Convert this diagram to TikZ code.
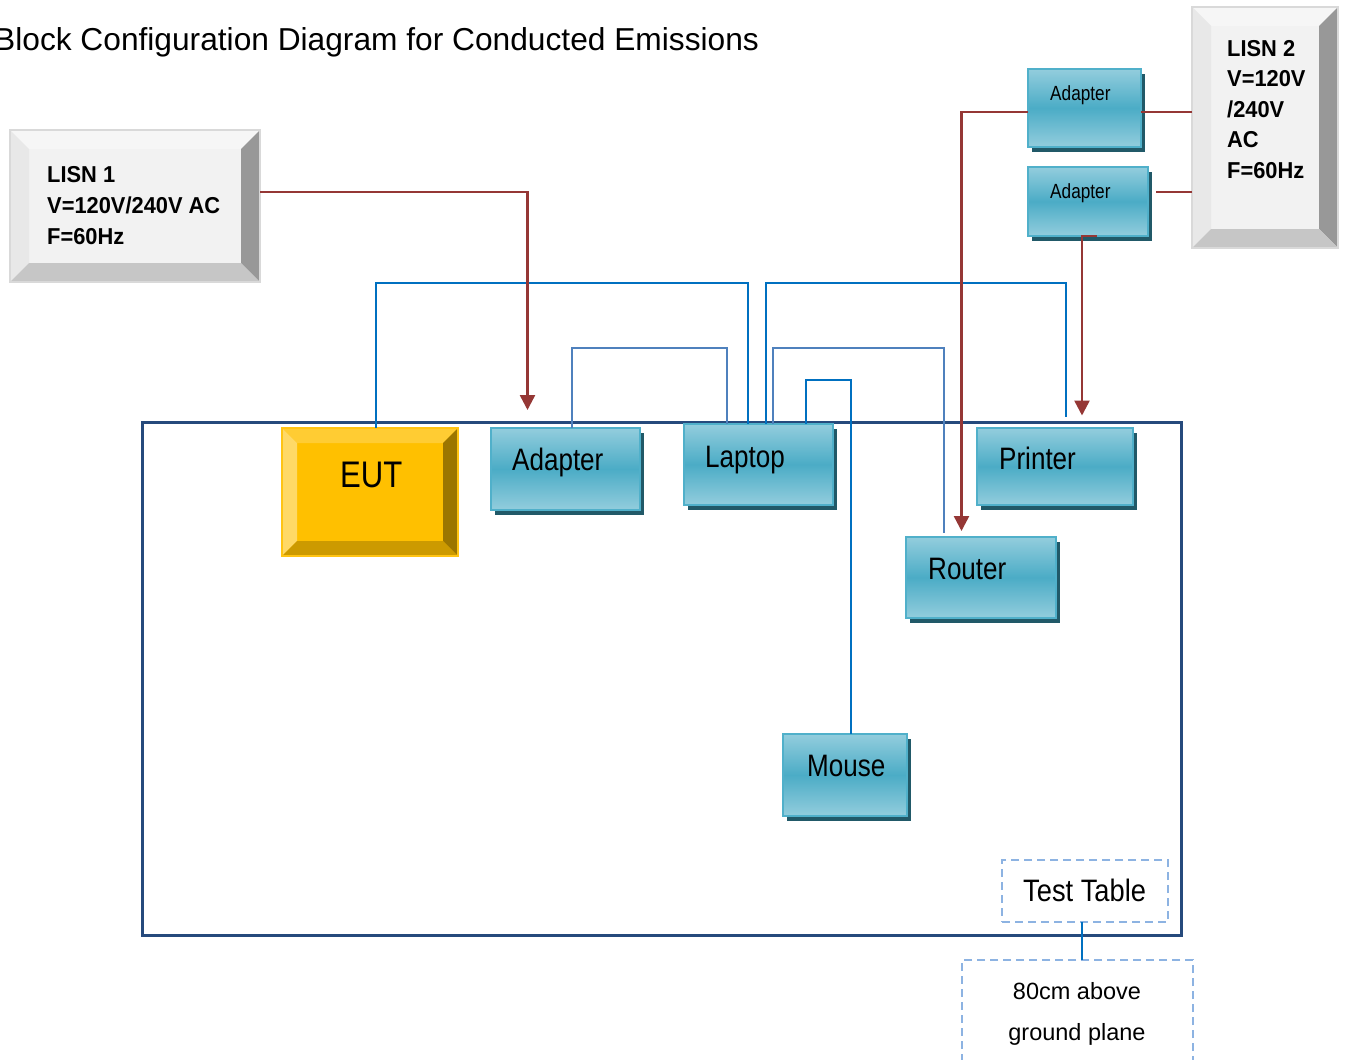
\documentclass[tikz,border=0pt]{standalone}
\usepackage{fontspec}
\setmainfont{Liberation Sans}
\newfontfamily\narrowfont[FakeStretch=0.84]{Liberation Sans}
\newfontfamily\ttfontnarrow[FakeStretch=0.88]{Liberation Sans}
\newfontfamily\lisnfont[FakeStretch=0.95]{Liberation Sans}
\usetikzlibrary{calc,shadows,arrows.meta}
\definecolor{wirered}{RGB}{149,55,53}
\definecolor{wireblue}{RGB}{0,112,192}
\definecolor{wirelight}{RGB}{79,129,189}
\definecolor{tableblue}{RGB}{38,74,124}
\definecolor{dashblue}{RGB}{141,179,226}
\definecolor{blight}{RGB}{147,205,221}
\definecolor{bmid}{RGB}{75,172,198}
\definecolor{bborder}{RGB}{80,176,202}
\definecolor{bshadow}{RGB}{33,89,104}
\definecolor{lface}{RGB}{242,242,242}
\definecolor{ltop}{RGB}{246,246,246}
\definecolor{lleft}{RGB}{232,232,232}
\definecolor{lright}{RGB}{152,152,152}
\definecolor{lbottom}{RGB}{198,198,198}
\definecolor{lborder}{RGB}{217,217,217}
\definecolor{eface}{RGB}{255,192,0}
\definecolor{etop}{RGB}{255,204,51}
\definecolor{eleft}{RGB}{255,217,102}
\definecolor{eright}{RGB}{156,118,0}
\definecolor{ebottom}{RGB}{204,154,0}
\definecolor{eborder}{RGB}{255,196,20}
\newcommand\bevelfaces[6]{%
  \fill[#3] (#1.north west) -- (#1.north east) -- ($(#1.north east)+(-#2,#2)$) -- ($(#1.north west)+(#2,#2)$) -- cycle;
  \fill[#4] (#1.north west) -- ($(#1.north west)+(#2,#2)$) -- ($(#1.south west)+(#2,-#2)$) -- (#1.south west) -- cycle;
  \fill[#5] (#1.north east) -- ($(#1.north east)+(-#2,#2)$) -- ($(#1.south east)+(-#2,-#2)$) -- (#1.south east) -- cycle;
  \fill[#6] (#1.south west) -- ($(#1.south west)+(#2,-#2)$) -- ($(#1.south east)+(-#2,-#2)$) -- (#1.south east) -- cycle;
}
\tikzset{
  base/.style={inner sep=0pt, outer sep=0pt, anchor=north west},
  bluebox/.style={base, draw=bborder, line width=2pt, top color=blight, bottom color=blight, middle color=bmid,
    drop shadow={shadow xshift=3.5pt, shadow yshift=-5pt, fill=bshadow, opacity=1}},
  lisnbox/.style={base, fill=lface},
  eutbox/.style={base, fill=eface},
  boxlabel/.style={anchor=base west, inner sep=0pt, font=\narrowfont\fontsize{31}{36}\selectfont},
  smalllabel/.style={anchor=base west, inner sep=0pt, font=\narrowfont\fontsize{20.5}{24}\selectfont},
  lisnlabel/.style={anchor=base west, inner sep=0pt, font=\lisnfont\bfseries\fontsize{23}{28}\selectfont},
  redw/.style={draw=wirered, line width=2.5pt},
  redarrow/.style={redw, -{Triangle[length=15pt,width=15pt]}},
  bluew/.style={draw=wireblue, line width=2pt},
  lightw/.style={draw=wirelight, line width=2pt},
  dashbox/.style={base, draw=dashblue, line width=1.6pt, dash pattern=on 8pt off 5pt},
}
\begin{document}
\begin{tikzpicture}[x=1pt,y=-1pt]
\useasboundingbox (0,0) rectangle (1345,1060);
\fill[white] (0,0) rectangle (1345,1060);

\node[anchor=base west, inner sep=0pt, font=\fontsize{31.7}{38}\selectfont] (title) at (-6,50) {Block Configuration Diagram for Conducted Emissions};

% test table
\node[base, draw=tableblue, line width=3pt, minimum width=1039pt, minimum height=513pt] (table) at (142,422) {};

% LISN 1
\node[lisnbox, minimum width=250pt, minimum height=152pt] (lisn1) at (10,130) {};
\bevelfaces{lisn1}{19}{ltop}{lleft}{lright}{lbottom}
\draw[lborder, line width=1.5pt] (lisn1.north west) rectangle (lisn1.south east);
\node[lisnlabel] (l1a) at (47,182.3) {LISN 1};
\node[lisnlabel] (l1b) at (47,213.5) {V=120V/240V AC};
\node[lisnlabel] (l1c) at (47,244) {F=60Hz};

% LISN 2
\node[lisnbox, minimum width=146pt, minimum height=241pt] (lisn2) at (1192,7) {};
\bevelfaces{lisn2}{19}{ltop}{lleft}{lright}{lbottom}
\draw[lborder, line width=1.5pt] (lisn2.north west) rectangle (lisn2.south east);
\node[lisnlabel] (l2a) at (1227,56) {LISN 2};
\node[lisnlabel] (l2b) at (1227,86.5) {V=120V};
\node[lisnlabel] (l2c) at (1227,117) {/240V};
\node[lisnlabel] (l2d) at (1227,147.5) {AC};
\node[lisnlabel] (l2e) at (1227,178) {F=60Hz};

% EUT
\node[eutbox, minimum width=176pt, minimum height=128pt] (eut) at (282,428) {};
\bevelfaces{eut}{15}{etop}{eleft}{eright}{ebottom}
\draw[eborder, line width=1.5pt] (eut.north west) rectangle (eut.south east);
\node[anchor=base west, inner sep=0pt, font=\narrowfont\fontsize{37}{42}\selectfont] (eutl) at (340,487) {EUT};

% blue boxes
\node[bluebox, minimum width=149pt, minimum height=82pt] (adapter) at (491,428) {};
\node[boxlabel] (adapterl) at (512,470) {Adapter};
\node[bluebox, minimum width=149pt, minimum height=81pt] (laptop) at (684,424) {};
\node[boxlabel] (laptopl) at (705,467) {Laptop};
\node[bluebox, minimum width=156pt, minimum height=77pt] (printer) at (977,428) {};
\node[boxlabel] (printerl) at (999,469) {Printer};
\node[bluebox, minimum width=150pt, minimum height=81pt] (router) at (906,537) {};
\node[boxlabel] (routerl) at (928,579) {Router};
\node[bluebox, minimum width=124pt, minimum height=82pt] (mouse) at (783,734) {};
\node[boxlabel] (mousel) at (807,776) {Mouse};
\node[bluebox, minimum width=113pt, minimum height=78pt] (ad1) at (1028,69) {};
\node[smalllabel] (ad1l) at (1050,100.7) {Adapter};
\node[bluebox, minimum width=120pt, minimum height=69pt] (ad2) at (1028,167) {};
\node[smalllabel] (ad2l) at (1050,198.3) {Adapter};

% test table label and ground plane
\node[dashbox, minimum width=166pt, minimum height=62pt] (tt) at (1002,860) {};
\node[anchor=base west, inner sep=0pt, font=\ttfontnarrow\fontsize{31}{36}\selectfont] (ttl) at (1023,901) {Test Table};
\node[dashbox, minimum width=231pt, minimum height=120pt] (gp) at (962,960) {};
\node[anchor=base, inner sep=0pt, font=\fontsize{23.5}{28}\selectfont] (gpa) at (1077,999) {80cm above};
\node[anchor=base, inner sep=0pt, font=\fontsize{23.5}{28}\selectfont] (gpb) at (1077,1040) {ground plane};
\coordinate (ttc) at ([xshift=-3pt]tt.south);
\draw[bluew] (ttc) -- (ttc |- gp.north);

% blue data wires
\draw[bluew] ([xshift=6pt]eut.north) -- ++(0,-145) -| ([xshift=-10.5pt]laptop.north);
\draw[lightw] ([xshift=6.5pt]adapter.north) -- ++(0,-80) -| ([xshift=-32pt]laptop.north);
\draw[bluew] ([xshift=7.5pt]laptop.north) -- ++(0,-141) -| ([xshift=10.5pt,yshift=11.5pt]printer.north);
\draw[lightw] ([xshift=14.5pt]laptop.north) -- ++(0,-76) -| ([xshift=-37pt,yshift=4.5pt]router.north);
\draw[bluew] ([xshift=47pt]laptop.north) -- ++(0,-44) -| ([xshift=5.5pt]mouse.north);

% red power wires
\coordinate (tipA) at (527.5,410);
\draw[redarrow] ([yshift=14pt]lisn1.east) -| (tipA);
\coordinate (l2up) at ([yshift=15.5pt]lisn2.west);
\draw[redw] (l2up) -- (ad1.east |- l2up);
\coordinate (tipB) at (961.5,531);
\draw[redarrow] (ad1.west |- l2up) -| (tipB);
\coordinate (l2dn) at ([yshift=-64.5pt]lisn2.west);
\coordinate (stub) at (1155.5,192);
\draw[redw] (l2dn) -- (stub);
\coordinate (tipC) at (1082,415.5);
\draw[redarrow] ([xshift=9pt]ad2.south) -| (tipC);
\end{tikzpicture}
\end{document}
